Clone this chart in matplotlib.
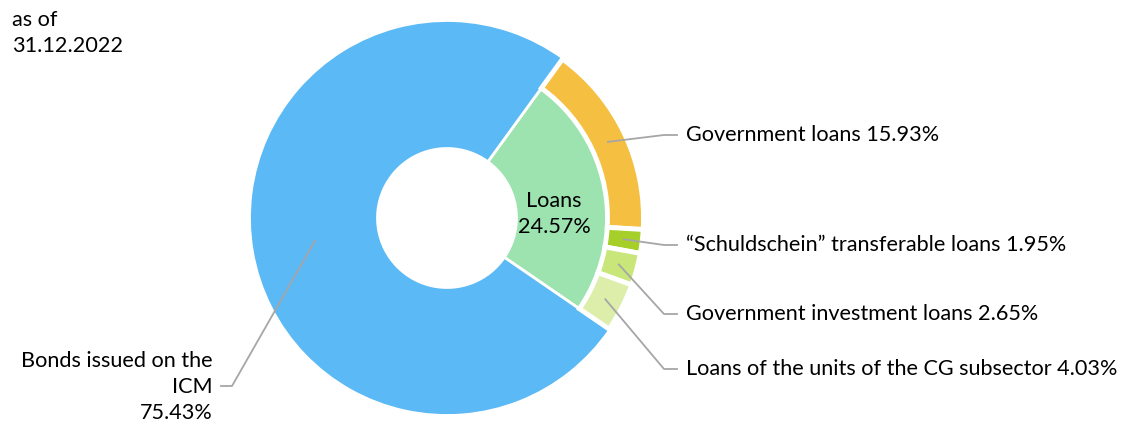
import numpy as np
import matplotlib.pyplot as plt

plt.rcParams['font.family'] = ['Lato', 'DejaVu Sans']

# data
inner_labels = ['Loans', 'Bonds issued on the\nICM']
inner_values = [24.57, 75.43]
inner_colors = ['#9DE3AF', '#5BB9F5']

outer_labels = ['Government loans',
                '\u201cSchuldschein\u201d transferable loans',
                'Government investment loans',
                'Loans of the units of the CG subsector']
outer_values = [15.93, 1.95, 2.65, 4.03]
outer_colors = ['#F5C042', '#A6CF29', '#C9E67B', '#DDEEAB']

date_text = 'as of\n31.12.2022'

# layout (pixels, y measured from top)
W, H = 1127, 430
cx, cy = 447, H - 218
start = 54
fs = 15.6
line_col = '#A6A6A6'
right_label_y = [135, 245, 314, 369]

fig = plt.figure(figsize=(W / 100, H / 100), dpi=100)
ax = fig.add_axes([0, 0, 1, 1])

# inner ring: loans + bonds
inner, _ = ax.pie(inner_values, colors=inner_colors, startangle=start,
                  counterclock=False, center=(cx, cy), radius=197.5,
                  wedgeprops=dict(width=197.5 - 69.5, edgecolor='white', linewidth=2),
                  frame=True)
inner[0].set_radius(161.5)
inner[0].set_width(161.5 - 69.5)

# outer ring: loan breakdown, the rest left empty
ring, _ = ax.pie(outer_values + [inner_values[1]], colors=outer_colors + ['white'],
                 startangle=start, counterclock=False, center=(cx, cy), radius=196.5,
                 wedgeprops=dict(width=196.5 - 160.5, edgecolor='white', linewidth=3.5),
                 frame=True)
ring[-1].set_visible(False)

ax.set_xlim(0, W)
ax.set_ylim(0, H)
ax.set_aspect('auto')
ax.axis('off')

# labels for breakdown
for w, lab, val, ly in zip(ring[:-1], outer_labels, outer_values, right_label_y):
    mid = np.deg2rad((w.theta1 + w.theta2) / 2)
    ax_x = cx + 178 * np.cos(mid)
    ax_y = cy + 178 * np.sin(mid)
    ax.plot([ax_x, 664, 677], [ax_y, H - ly, H - ly], color=line_col, lw=1.3)
    ax.text(686, H - ly, f'{lab} {val:.2f}%', fontsize=fs, va='center', ha='left')

# bonds label
b = inner[1]
mid = np.deg2rad((b.theta1 + b.theta2) / 2)
bx = cx + 134 * np.cos(mid)
by = cy + 134 * np.sin(mid)
ax.plot([bx, 232, 221], [by, H - 386, H - 386], color=line_col, lw=1.3)
ax.text(213, H - 387, f'{inner_labels[1]}\n{inner_values[1]:.2f}%', fontsize=fs,
        ha='right', va='center', multialignment='right', linespacing=1.4)

# loans label
ax.text(554, H - 214, f'{inner_labels[0]}\n{inner_values[0]:.2f}%', fontsize=fs,
        ha='center', va='center', linespacing=1.4)

ax.text(12, H - 10, date_text, fontsize=fs, ha='left', va='top', linespacing=1.4)

fig.savefig('out.png', dpi=100)
